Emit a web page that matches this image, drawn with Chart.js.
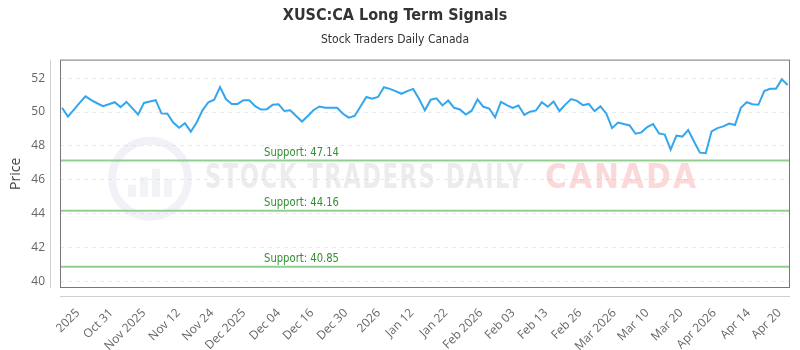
<!DOCTYPE html>
<html lang="en">
<head>
  <meta charset="UTF-8">
  <title>XUSC:CA Long Term Signals</title>
  <script src="https://cdn.jsdelivr.net/npm/chart.js"></script>
  <style>
    body { margin: 0; background: #fff; }
  </style>
</head>
<body>
  <canvas id="signalChart" width="800" height="350"></canvas>
  <script>
    // daily closes
    const prices = [
      50.25, 49.73, 50.13, 50.54, 50.93, 50.70, 50.52, 50.35, 50.46, 50.58,
      50.29, 50.60, 50.23, 49.86, 50.54, 50.62, 50.70, 49.92, 49.90, 49.38,
      49.07, 49.34, 48.84, 49.38, 50.10, 50.58, 50.73, 51.47, 50.77, 50.48,
      50.48, 50.70, 50.70, 50.35, 50.15, 50.17, 50.43, 50.46, 50.06, 50.10,
      49.77, 49.44, 49.77, 50.12, 50.33, 50.25, 50.25, 50.25, 49.90, 49.67,
      49.77, 50.33, 50.89, 50.79, 50.89, 51.47, 51.37, 51.24, 51.08, 51.24,
      51.37, 50.79, 50.10, 50.73, 50.81, 50.39, 50.68, 50.25, 50.15, 49.85,
      50.08, 50.75, 50.31, 50.21, 49.69, 50.60, 50.41, 50.25, 50.39, 49.83,
      50.02, 50.10, 50.58, 50.31, 50.62, 50.06, 50.44, 50.77, 50.66, 50.41,
      50.48, 50.06, 50.33, 49.92, 49.05, 49.38, 49.29, 49.21, 48.72, 48.80,
      49.11, 49.29, 48.74, 48.67, 47.78, 48.61, 48.55, 48.94, 48.26, 47.60,
      47.57, 48.86, 49.05, 49.15, 49.32, 49.23, 50.25, 50.58, 50.46, 50.43,
      51.24, 51.37, 51.37, 51.93, 51.60
    ];
    const supportLevels = [47.14, 44.16, 40.85];
    const tickLabels = [
      '2025', 'Oct 31', 'Nov 2025', 'Nov 12', 'Nov 24', 'Dec 2025', 'Dec 04', 'Dec 16',
      'Dec 30', '2026', 'Jan 12', 'Jan 22', 'Feb 2026', 'Feb 03', 'Feb 13', 'Feb 26',
      'Mar 2026', 'Mar 10', 'Mar 20', 'Apr 2026', 'Apr 14', 'Apr 20'
    ];
    // index position of each tick label along the series
    const tickPositions = [
      2.7, 8.4, 14.0, 19.9, 25.6, 31.1, 37.0, 42.7, 48.5, 54.1, 59.8,
      65.6, 71.6, 77.1, 82.7, 88.5, 94.4, 100.0, 105.8, 111.5, 117.3, 122.6
    ];
    const yTicks = [40, 42, 44, 46, 48, 50, 52];

    const narrow = '"Liberation Sans Narrow", "DejaVu Sans Condensed", sans-serif';
    const xMin = -0.35, xMax = prices.length - 0.6;

    const supportSets = supportLevels.map(lvl => ({
      label: 'Support: ' + lvl.toFixed(2),
      data: [{ x: xMin, y: lvl }, { x: xMax, y: lvl }],
      borderColor: '#8fd08f',
      borderWidth: 2,
      pointRadius: 0,
      fill: false
    }));

    // draw text squeezed to a given width
    function fitText(ctx, text, x, y, w) {
      const tw = ctx.measureText(text).width;
      ctx.save();
      ctx.translate(x, y);
      ctx.scale(w / tw, 1);
      ctx.fillText(text, 0, 0);
      ctx.restore();
    }

    // watermark + frame + axis lines + support captions
    const decor = {
      id: 'decor',
      beforeDatasetsDraw(chart) {
        const { ctx, chartArea: a } = chart;
        const cy = (a.top + a.bottom) / 2 + 5;
        ctx.save();
        ctx.strokeStyle = 'rgba(205,212,228,0.3)';
        ctx.lineWidth = 8;
        ctx.beginPath();
        ctx.arc(150, cy, 38, 0, Math.PI * 2);
        ctx.stroke();
        ctx.fillStyle = 'rgba(205,212,228,0.28)';
        [[-18, 12], [-6, 20], [6, 28], [18, 18]].forEach(([dx, h]) => {
          ctx.fillRect(150 + dx - 4, cy + 18 - h, 8, h);
        });
        ctx.textBaseline = 'middle';
        ctx.font = 'bold 34px ' + narrow;
        ctx.letterSpacing = '2px';
        ctx.fillStyle = 'rgba(190,192,198,0.3)';
        fitText(ctx, 'STOCK TRADERS DAILY', 205, cy, 320);
        ctx.fillStyle = 'rgba(240,120,120,0.28)';
        fitText(ctx, 'CANADA', 545, cy, 153);
        ctx.restore();
      },
      afterDatasetsDraw(chart) {
        const { ctx, chartArea: a, scales } = chart;
        ctx.save();
        ctx.font = '12px ' + narrow;
        ctx.fillStyle = '#338f33';
        ctx.textBaseline = 'bottom';
        supportLevels.forEach(lvl => {
          const y = scales.y.getPixelForValue(lvl);
          fitText(ctx, 'Support: ' + lvl.toFixed(2), 264, y - 2, 75);
        });
        ctx.strokeStyle = '#777';
        ctx.lineWidth = 1;
        ctx.strokeRect(a.left + 0.5, a.top + 0.5, a.width - 1, a.height - 1);
        // detached axis lines
        ctx.strokeStyle = '#d0d0d0';
        ctx.beginPath();
        ctx.moveTo(a.left - 9.5, a.top);
        ctx.lineTo(a.left - 9.5, a.bottom);
        ctx.moveTo(a.left, a.bottom + 8.5);
        ctx.lineTo(a.right, a.bottom + 8.5);
        ctx.stroke();
        ctx.restore();
      }
    };

    new Chart(document.getElementById('signalChart'), {
      type: 'line',
      data: {
        datasets: [{
          label: 'Price',
          data: prices.map((v, i) => ({ x: i, y: v })),
          borderColor: '#33a6ee',
          borderWidth: 2,
          pointRadius: 0,
          tension: 0,
          fill: false
        }, ...supportSets]
      },
      options: {
        responsive: false,
        animation: false,
        layout: { padding: { left: 0, right: 10, top: 0, bottom: 0 } },
        plugins: {
          legend: { display: false },
          tooltip: { enabled: false },
          title: {
            display: true,
            text: 'XUSC:CA Long Term Signals',
            color: '#333',
            font: { family: narrow, size: 16, weight: 'bold' },
            padding: { top: 6, bottom: 5 }
          },
          subtitle: {
            display: true,
            text: 'Stock Traders Daily Canada',
            color: '#333',
            font: { family: narrow, size: 12 },
            padding: { top: 2, bottom: 13 }
          }
        },
        scales: {
          x: {
            type: 'linear',
            min: xMin,
            max: xMax,
            afterBuildTicks(scale) {
              scale.ticks = tickPositions.map(v => ({ value: v }));
            },
            afterFit(scale) { scale.height = 62; },
            grid: { display: false },
            border: { display: false },
            ticks: {
              autoSkip: false,
              minRotation: 45,
              maxRotation: 45,
              padding: 10,
              color: '#666',
              font: { family: '"Open Sans", sans-serif', size: 12 },
              callback: (v, i) => tickLabels[i]
            }
          },
          y: {
            min: 39.6,
            max: 53.1,
            afterBuildTicks(scale) {
              scale.ticks = yTicks.map(v => ({ value: v }));
            },
            afterFit(scale) { scale.width = 60; },
            grid: { color: '#ebebeb', drawTicks: false },
            border: { display: false, dash: [4, 4] },
            ticks: {
              padding: 15,
              color: '#666',
              font: { family: '"Open Sans", sans-serif', size: 12 }
            },
            title: {
              display: true,
              text: 'Price',
              color: '#444',
              font: { family: '"Open Sans", sans-serif', size: 14 },
              padding: { top: 8, bottom: 0 }
            }
          }
        }
      },
      plugins: [decor]
    });
  </script>
</body>
</html>
